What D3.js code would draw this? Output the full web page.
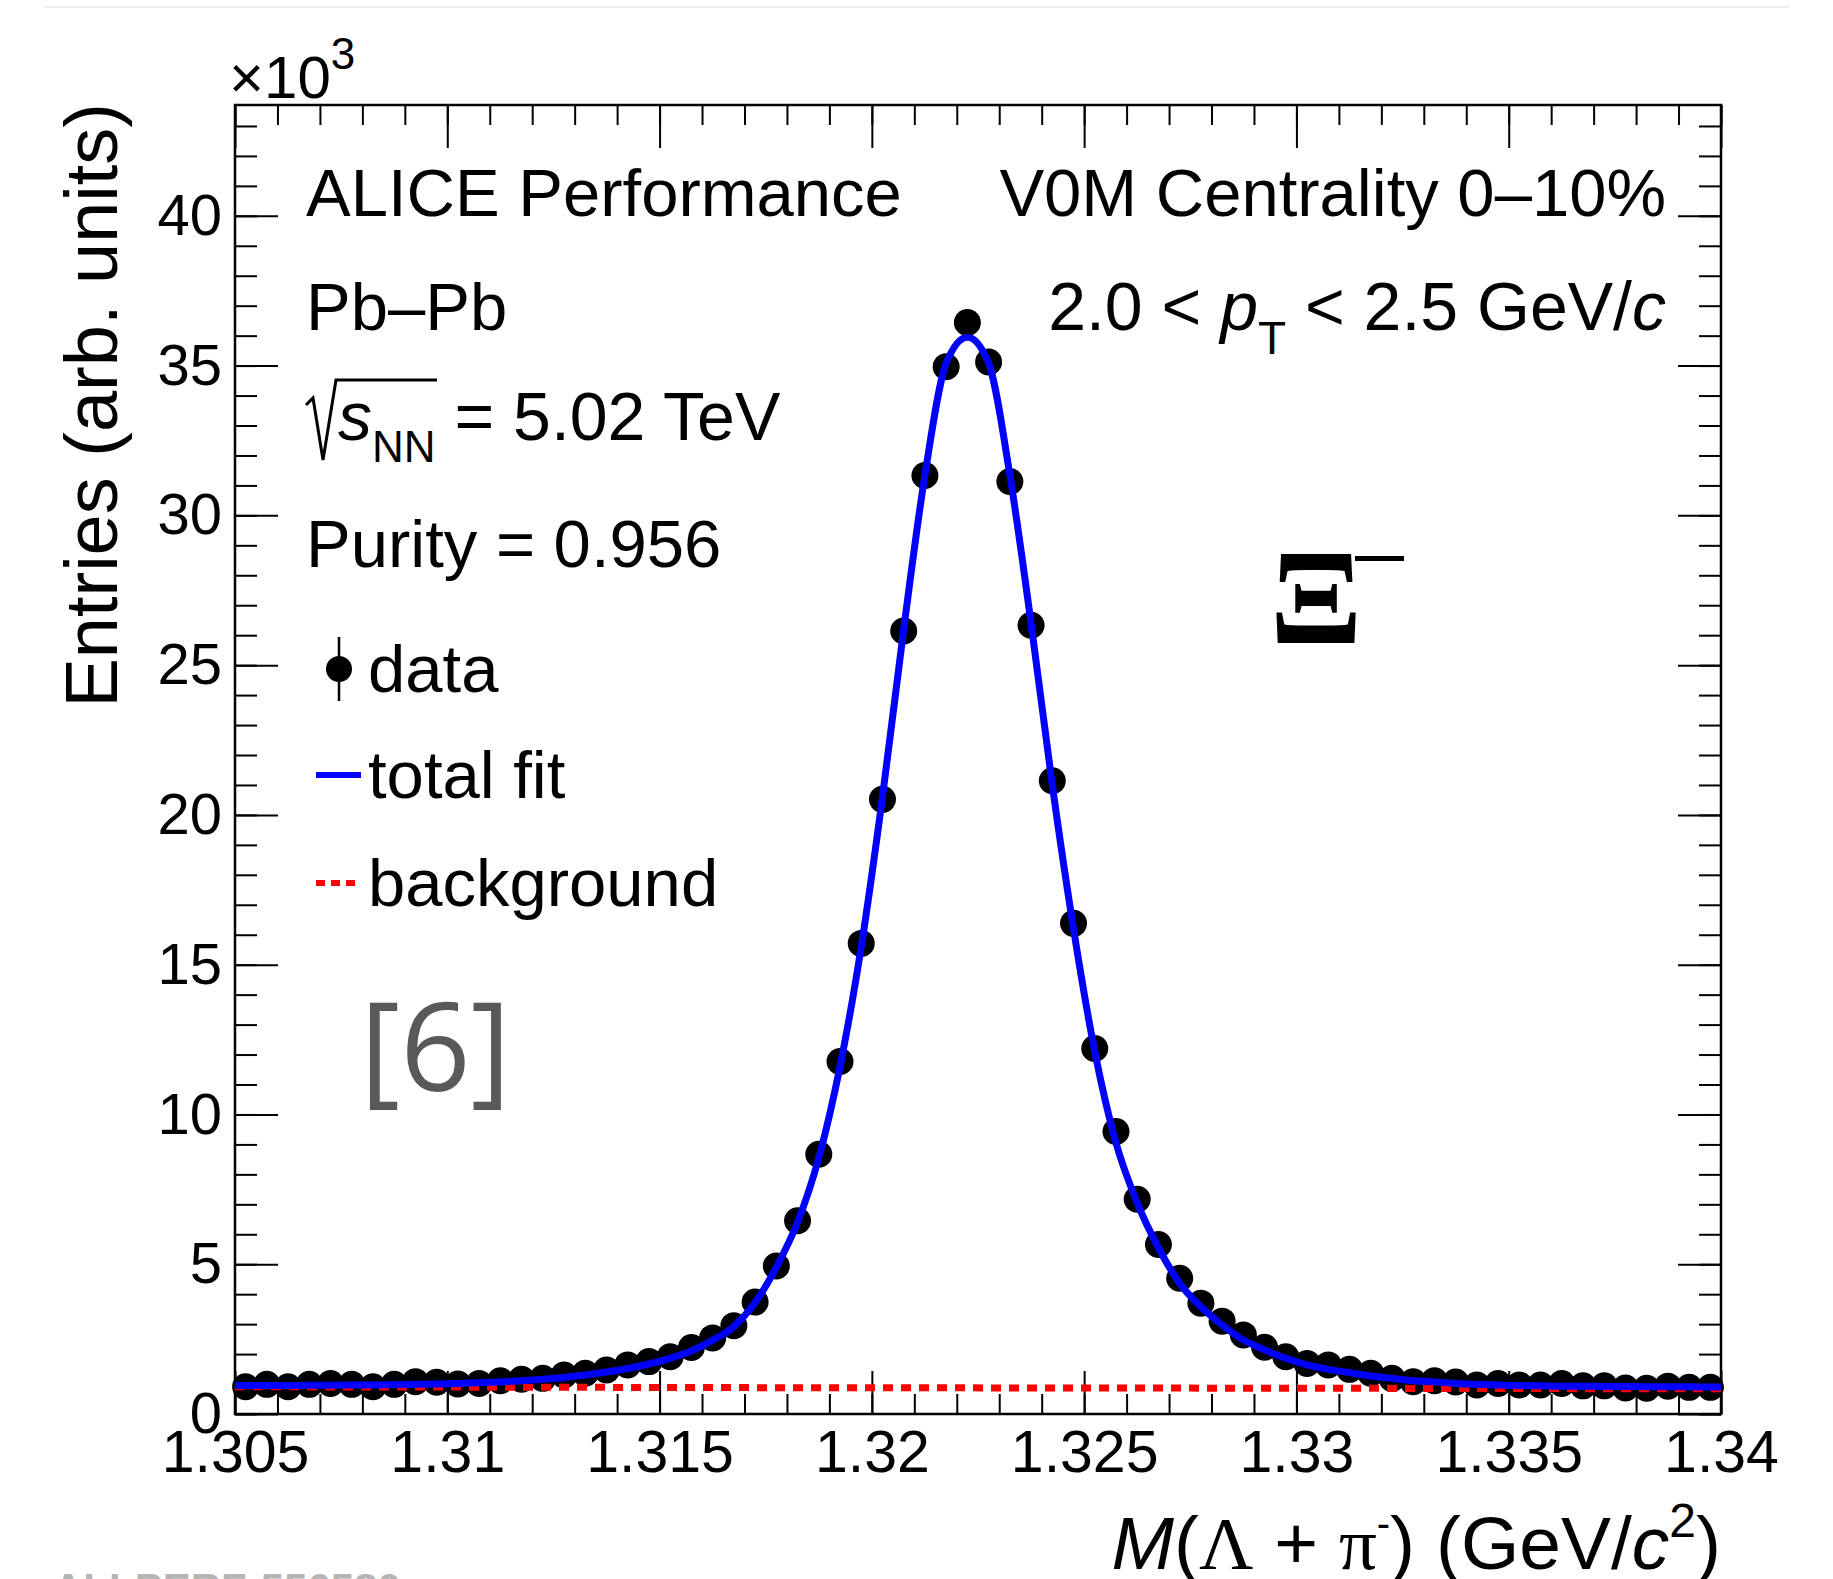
<!DOCTYPE html>
<meta charset="utf-8">
<script src="https://d3js.org/d3.v7.min.js"></script>
<style>
body { margin: 0; background: #fff; }
text { font-family: "Liberation Sans", Arial, Helvetica, sans-serif; }
.tick line { stroke: #000; stroke-width: 2; }
.tick text { fill: #000; }
.domain { display: none; }
</style>
<body>
<script>

// invariant mass bins (GeV/c^2), 70 bins of 0.5 MeV
var binLow = 1.305, binWidth = 0.0005;
// entries per bin, x10^3
var counts = [0.91,0.99,0.91,0.99,1.02,0.99,0.91,0.99,1.08,1.06,
              1.00,1.02,1.11,1.16,1.19,1.30,1.36,1.47,1.64,1.75,
              1.91,2.22,2.54,2.95,3.74,4.94,6.45,8.67,11.77,15.71,
              20.52,26.14,31.33,34.96,36.44,35.12,31.13,26.33,21.14,16.38,
              12.20,9.43,7.17,5.66,4.53,3.70,3.10,2.64,2.23,1.91,
              1.69,1.64,1.49,1.36,1.19,1.08,1.11,1.07,0.97,1.02,
              0.97,0.97,1.02,0.94,0.94,0.87,0.86,0.93,0.89,0.89];
// total fit read at bin centres, x10^3
var fitVals = [0.95,0.95,0.95,0.96,0.96,0.97,0.97,0.98,0.99,1.00,
               1.02,1.04,1.07,1.11,1.16,1.22,1.30,1.40,1.52,1.67,
               1.86,2.10,2.46,2.92,3.72,4.90,6.40,8.55,11.6,15.6,
               20.6,26.2,31.35,35.08,35.95,35.08,31.35,26.4,21.0,16.2,
               12.1,9.05,7.05,5.55,4.36,3.58,2.97,2.47,2.14,1.86,
               1.64,1.49,1.38,1.27,1.19,1.11,1.07,1.02,0.99,0.97,
               0.95,0.94,0.93,0.93,0.92,0.92,0.91,0.91,0.91,0.90];
// background (dotted red)
var bgX = [1.305, 1.3175, 1.33, 1.34];
var bgY = [0.91, 0.88, 0.86, 0.84];

var xMajor = [1.305, 1.31, 1.315, 1.32, 1.325, 1.33, 1.335, 1.34];
var xLabels = ["1.305", "1.31", "1.315", "1.32", "1.325", "1.33", "1.335", "1.34"];
var yMajor = [0, 5, 10, 15, 20, 25, 30, 35, 40];

var W = 1833, H = 1579;
var pLeft = 235, pRight = 1721, pTop = 105, pBottom = 1414;

var svg = d3.select("body").append("svg")
    .attr("width", W).attr("height", H);

svg.append("rect").attr("width", W).attr("height", H).attr("fill", "#fff");
svg.append("line").attr("x1", 44).attr("x2", 1790).attr("y1", 7).attr("y2", 7)
    .attr("stroke", "#eeeeee").attr("stroke-width", 2);

var x = d3.scaleLinear().domain([1.305, 1.34]).range([pLeft, pRight]);
var y = d3.scaleLinear().domain([0, 43.7]).range([pBottom, pTop]);

var xMinor = d3.range(0, 36).map(function(i) { return +(1.305 + i * 0.001).toFixed(4); });
var yMinor = d3.range(0, 44);

// axes, ticks pointing inward
function tickAxis(axis, tr) {
    return svg.append("g").attr("transform", tr).call(axis);
}
tickAxis(d3.axisBottom(x).tickValues(xMinor).tickSize(-20).tickFormat(""), "translate(0," + pBottom + ")");
tickAxis(d3.axisTop(x).tickValues(xMinor).tickSize(-20).tickFormat(""), "translate(0," + pTop + ")");
tickAxis(d3.axisLeft(y).tickValues(yMinor).tickSize(-22).tickFormat(""), "translate(" + pLeft + ",0)");
tickAxis(d3.axisRight(y).tickValues(yMinor).tickSize(-22).tickFormat(""), "translate(" + pRight + ",0)");

var xb = tickAxis(d3.axisBottom(x).tickValues(xMajor).tickSize(-43).tickPadding(16)
    .tickFormat(function(d, i) { return xLabels[i]; }), "translate(0," + pBottom + ")");
xb.selectAll("text").attr("font-size", 59);
tickAxis(d3.axisTop(x).tickValues(xMajor).tickSize(-43).tickFormat(""), "translate(0," + pTop + ")");
var yl = tickAxis(d3.axisLeft(y).tickValues(yMajor).tickSize(-43).tickPadding(13), "translate(" + pLeft + ",0)");
yl.selectAll("text").attr("font-size", 58);
tickAxis(d3.axisRight(y).tickValues(yMajor).tickSize(-43).tickFormat(""), "translate(" + pRight + ",0)");
svg.selectAll(".tick text").style("font-family", "'Liberation Sans', Arial, sans-serif");

svg.append("rect").attr("x", pLeft).attr("y", pTop)
    .attr("width", pRight - pLeft).attr("height", pBottom - pTop)
    .attr("fill", "none").attr("stroke", "#000").attr("stroke-width", 2.5);

// x10^3
var e3 = svg.append("text").attr("x", 229).attr("y", 98).attr("font-size", 60).text("\u00d710");
e3.append("tspan").attr("dy", -29).attr("font-size", 44).text("3");

// axis titles
svg.append("text")
    .attr("transform", "translate(117," + (pTop - 2) + ") rotate(-90)")
    .attr("text-anchor", "end").attr("font-size", 74)
    .text("Entries (arb. units)");

var xt = svg.append("text").attr("x", pRight).attr("y", 1569)
    .attr("text-anchor", "end").attr("font-size", 75);
xt.append("tspan").attr("font-style", "italic").text("M");
xt.append("tspan").text("(");
xt.append("tspan").style("font-family", "'Liberation Serif', serif").text("\u039b");
xt.append("tspan").text(" + ");
xt.append("tspan").style("font-family", "'Liberation Serif', serif").text("\u03c0");
xt.append("tspan").attr("dy", -32).attr("font-size", 40).text("-");
xt.append("tspan").attr("dy", 32).text(") (GeV/");
xt.append("tspan").attr("font-style", "italic").text("c");
xt.append("tspan").attr("dy", -32).attr("font-size", 48).text("2");
xt.append("tspan").attr("dy", 32).text(")");

// data points
var bins = counts.map(function(c, i) { return { m: binLow + (i + 0.5) * binWidth, v: c, f: fitVals[i] }; });

svg.append("g").selectAll("circle").data(bins).enter().append("circle")
    .attr("cx", function(d) { return x(d.m); })
    .attr("cy", function(d) { return y(d.v); })
    .attr("r", 13.5).attr("fill", "#000");

// background
var bg = bgX.map(function(m, i) { return { m: m, v: bgY[i] }; });
svg.append("path").datum(bg)
    .attr("d", d3.line().x(function(d) { return x(d.m); }).y(function(d) { return y(d.v); }))
    .attr("fill", "none").attr("stroke", "#ff0000").attr("stroke-width", 7)
    .attr("stroke-dasharray", "10,8");

// total fit
var fitPts = [{ m: 1.305, f: fitVals[0] }].concat(bins).concat([{ m: 1.34, f: fitVals[fitVals.length - 1] }]);
svg.append("path").datum(fitPts)
    .attr("d", d3.line().curve(d3.curveMonotoneX)
        .x(function(d) { return x(d.m); }).y(function(d) { return y(d.f); }))
    .attr("fill", "none").attr("stroke", "#0000ff").attr("stroke-width", 7);

// labels
function label(tx, ty, txt, anchor) {
    return svg.append("text").attr("x", tx).attr("y", ty).attr("font-size", 67)
        .attr("text-anchor", anchor || "start").text(txt);
}
label(306, 216, "ALICE Performance");
label(1666, 216, "V0M Centrality 0\u201310%", "end");
label(306, 330, "Pb\u2013Pb");

var pt = svg.append("text").attr("x", 1666).attr("y", 330).attr("font-size", 68).attr("text-anchor", "end");
pt.append("tspan").text("2.0 < ");
pt.append("tspan").attr("font-style", "italic").text("p");
pt.append("tspan").attr("dy", 24).attr("font-size", 46).text("T");
pt.append("tspan").attr("dy", -24).text("  < 2.5 GeV/");
pt.append("tspan").attr("font-style", "italic").text("c");

// sqrt(s_NN)
svg.append("path")
    .attr("d", "M306,405 L313,398 L323,460 L336,380 L437,380")
    .attr("fill", "none").attr("stroke", "#000").attr("stroke-width", 3);
var sq = svg.append("text").attr("x", 338).attr("y", 440).attr("font-size", 68);
sq.append("tspan").attr("font-style", "italic").text("s");
sq.append("tspan").attr("dy", 22).attr("font-size", 44).text("NN");
sq.append("tspan").attr("dy", -22).text(" = 5.02 TeV");

label(306, 567, "Purity = 0.956");

// legend
svg.append("line").attr("x1", 339).attr("x2", 339).attr("y1", 637).attr("y2", 701)
    .attr("stroke", "#000").attr("stroke-width", 2.5);
svg.append("circle").attr("cx", 339).attr("cy", 669).attr("r", 13).attr("fill", "#000");
label(368, 692, "data");
svg.append("line").attr("x1", 316).attr("x2", 361).attr("y1", 775).attr("y2", 775)
    .attr("stroke", "#0000ff").attr("stroke-width", 6);
label(368, 798, "total fit");
svg.append("line").attr("x1", 316).attr("x2", 361).attr("y1", 883).attr("y2", 883)
    .attr("stroke", "#ff0000").attr("stroke-width", 6).attr("stroke-dasharray", "9,6");
label(368, 906, "background");

// reference tag
svg.append("text").attr("x", 360).attr("y", 1091).attr("font-size", 123)
    .style("font-family", "'Open Sans', 'Noto Sans', sans-serif")
    .style("fill", "#595959").text("[6]");

// particle
svg.append("text").attr("x", 1270).attr("y", 643).attr("font-size", 136)
    .style("font-family", "'Liberation Serif', 'DejaVu Serif', serif")
    .attr("font-weight", "bold").text("\u039e");
svg.append("rect").attr("x", 1355).attr("y", 556).attr("width", 49).attr("height", 5).attr("fill", "#000");

// clipped figure id at the bottom edge
svg.append("text").attr("x", 53).attr("y", 1603).attr("font-size", 42)
    .attr("font-weight", "bold").style("fill", "#b5b5b5").text("ALI-PERF-556580");

</script>
</body>
